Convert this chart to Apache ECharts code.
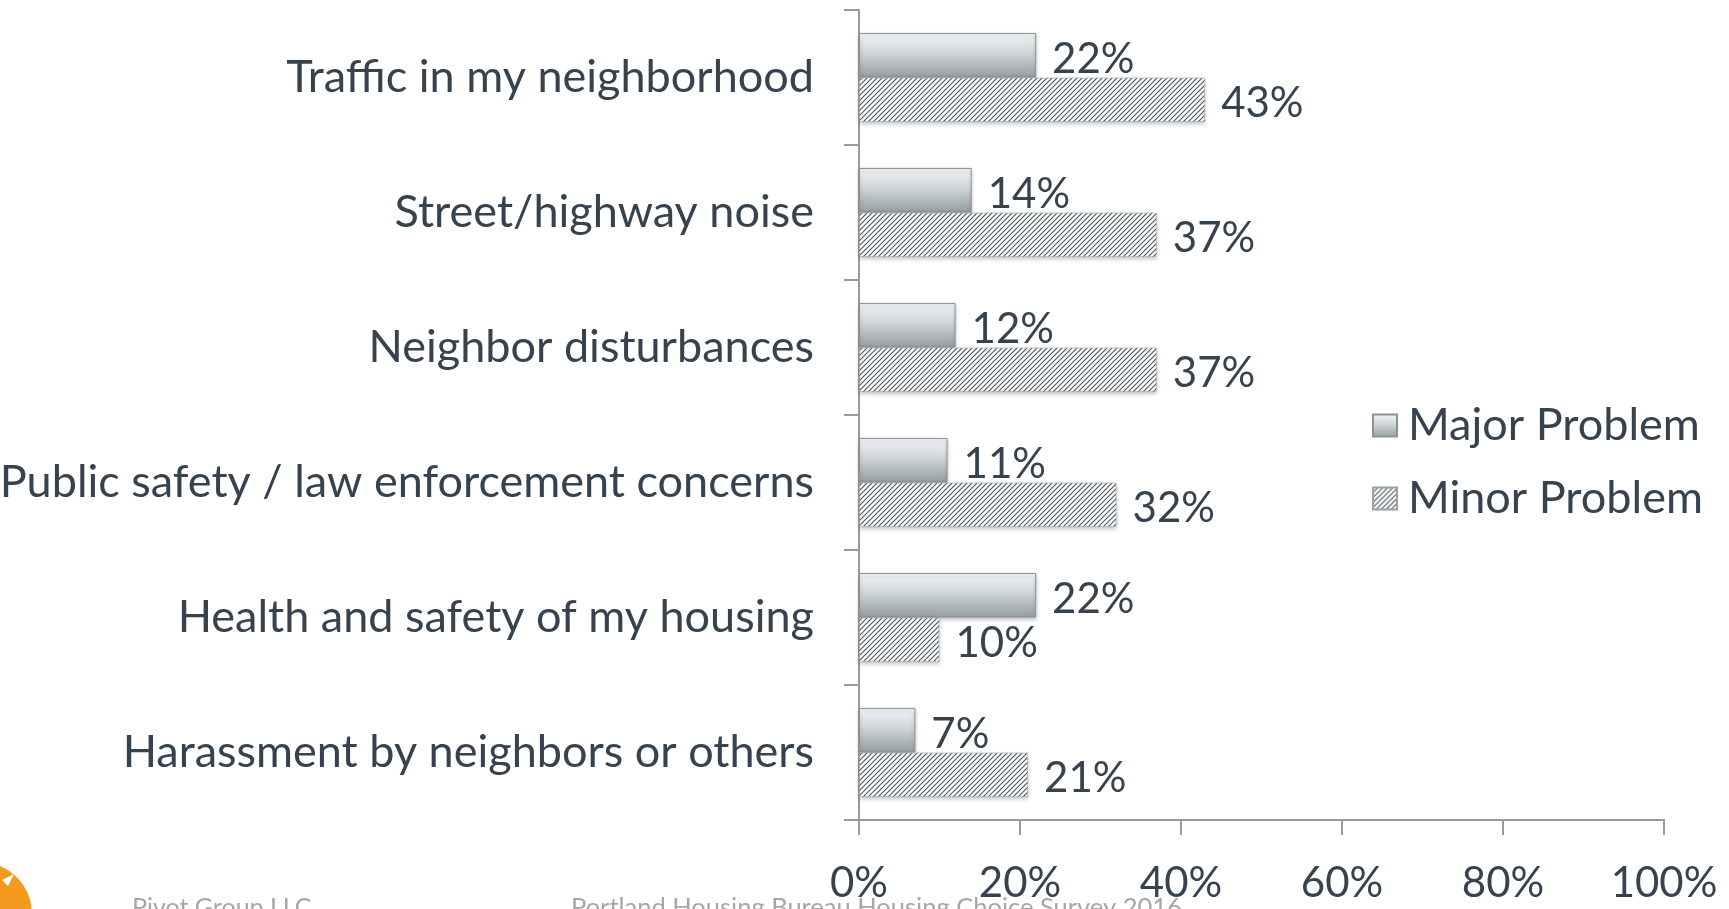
<!DOCTYPE html>
<html>
<head>
<meta charset="utf-8">
<script src="https://cdn.jsdelivr.net/npm/echarts@6/dist/echarts.min.js"></script>
<style>
  html, body { margin: 0; padding: 0; background: #fff; }
  #chart { width: 1729px; height: 909px; }
</style>
</head>
<body>
<div id="chart"></div>
<script>
const categories = [
  'Traffic in my neighborhood',
  'Street/highway noise',
  'Neighbor disturbances',
  'Public safety / law enforcement concerns',
  'Health and safety of my housing',
  'Harassment by neighbors or others'
]
const majorValues = [22, 14, 12, 11, 22, 7]
const minorValues = [43, 37, 37, 32, 10, 21]
const xTicks = [0, 20, 40, 60, 80, 100]

const textColor = '#36434f'
const fontFamily = 'Lato, "Open Sans", sans-serif'
const textSize = 45
const numberSize = 42

// diagonal hatch used for the "Minor Problem" bars
function makeHatch() {
  const c = document.createElement('canvas')
  c.width = 5
  c.height = 5
  const ctx = c.getContext('2d')
  ctx.fillStyle = '#ffffff'
  ctx.fillRect(0, 0, 5, 5)
  ctx.strokeStyle = '#4a555e'
  ctx.lineWidth = 1.1
  ctx.beginPath()
  ctx.moveTo(0, 5); ctx.lineTo(5, 0)
  ctx.moveTo(-1, 1); ctx.lineTo(1, -1)
  ctx.moveTo(4, 6); ctx.lineTo(6, 4)
  ctx.stroke()
  return c
}

const majorFill = new echarts.graphic.LinearGradient(0, 0, 0, 1, [
  { offset: 0, color: '#f4f6f7' },
  { offset: 0.45, color: '#cfd5d8' },
  { offset: 1, color: '#949da1' }
])

const chart = echarts.init(document.getElementById('chart'))

const labelStyle = {
  show: true,
  position: 'right',
  distance: 16,
  offset: [0, 4],
  formatter: '{c}%',
  color: textColor,
  fontFamily: fontFamily,
  fontSize: numberSize
}

chart.setOption({
  animation: false,
  grid: {
    left: 859, right: 65, top: 10, bottom: 89,
    containLabel: false,
    outerBoundsMode: 'none'
  },
  xAxis: {
    type: 'value',
    min: 0,
    max: 100,
    interval: 20,
    axisLine: { show: true, lineStyle: { color: '#9a9a9a', width: 2 } },
    axisTick: { show: true, length: 15, lineStyle: { color: '#9a9a9a', width: 2 } },
    splitLine: { show: false },
    axisLabel: {
      margin: 42,
      color: textColor,
      fontFamily: fontFamily,
      fontSize: numberSize,
      formatter: v => (xTicks.includes(v) ? v + '%' : '')
    }
  },
  yAxis: {
    type: 'category',
    inverse: true,
    data: categories,
    axisLine: { show: true, lineStyle: { color: '#9a9a9a', width: 2 } },
    axisTick: { show: true, length: 15, lineStyle: { color: '#9a9a9a', width: 2 } },
    axisLabel: {
      margin: 45,
      padding: [4, 0, 0, 0],
      color: textColor,
      fontFamily: fontFamily,
      fontSize: textSize
    }
  },
  legend: {
    orient: 'vertical',
    left: 1367,
    top: 398,
    itemWidth: 24,
    itemHeight: 22,
    itemGap: 28,
    icon: 'rect',
    textStyle: {
      color: textColor,
      fontFamily: fontFamily,
      fontSize: textSize,
      padding: [0, 0, 0, 6]
    },
    data: ['Major Problem', 'Minor Problem']
  },
  series: [
    {
      name: 'Major Problem',
      type: 'bar',
      data: majorValues,
      barGap: '0%',
      barCategoryGap: '34%',
      itemStyle: {
        color: majorFill,
        borderColor: '#8a9397',
        borderWidth: 1,
        shadowBlur: 4,
        shadowOffsetY: 2,
        shadowColor: 'rgba(0,0,0,0.25)'
      },
      label: labelStyle
    },
    {
      name: 'Minor Problem',
      type: 'bar',
      data: minorValues,
      itemStyle: {
        color: { image: makeHatch(), repeat: 'repeat' },
        borderColor: '#9aa0a4',
        borderWidth: 1,
        borderType: 'dotted',
        shadowBlur: 4,
        shadowOffsetY: 2,
        shadowColor: 'rgba(0,0,0,0.25)'
      },
      label: labelStyle
    }
  ],
  graphic: [
    {
      type: 'circle',
      shape: { cx: -20, cy: 914, r: 52 },
      style: { fill: '#f39a1f' },
      silent: true
    },
    {
      type: 'polygon',
      shape: { points: [[2, 880], [14, 874], [8, 886]] },
      style: { fill: '#ffffff' },
      silent: true
    },
    {
      type: 'text',
      left: 132,
      top: 895,
      style: { text: 'Pivot Group LLC', fill: '#a6a6a6', font: '25px ' + fontFamily }
    },
    {
      type: 'text',
      left: 571,
      top: 895,
      style: { text: 'Portland Housing Bureau Housing Choice Survey 2016', fill: '#a6a6a6', font: '25.5px ' + fontFamily }
    }
  ]
})

window.addEventListener('resize', () => chart.resize())
</script>
</body>
</html>
